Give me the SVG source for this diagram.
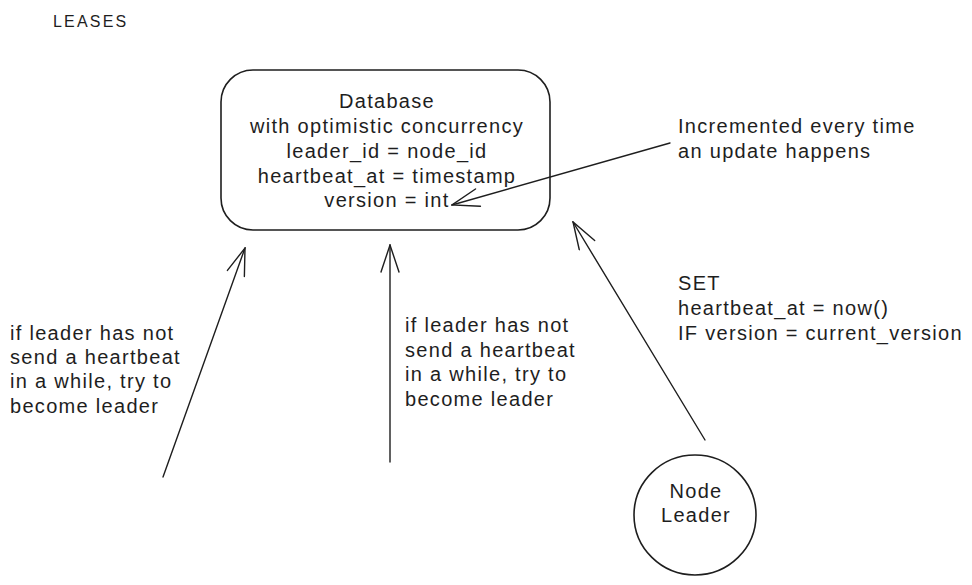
<svg xmlns="http://www.w3.org/2000/svg" width="972" height="585" viewBox="0 0 972 585">
<style>
text{font-family:"Liberation Sans",Arial,sans-serif;font-size:20px;letter-spacing:1.3px;fill:#1e1e1e}
.c{text-anchor:middle}
.shape{fill:none;stroke:#1e1e1e;stroke-width:1.6}
.conn{fill:none;stroke:#1e1e1e;stroke-width:1.4;stroke-linecap:round}
</style>
<defs>
<marker id="arr" viewBox="0 0 30 20" refX="29" refY="10" markerWidth="30" markerHeight="20" markerUnits="userSpaceOnUse" orient="auto">
<path d="M2,1 L29,10 L2,19" fill="none" stroke="#1e1e1e" stroke-width="1.4" stroke-linecap="round"/>
</marker>
</defs>
<rect width="972" height="585" fill="#ffffff"/>
<text x="53" y="27" style="font-size:16px;letter-spacing:2.2px">LEASES</text>
<g id="database">
<rect class="shape" x="221" y="70" width="329" height="160" rx="32"/>
<text class="c" x="387" y="108">Database</text>
<text class="c" x="387" y="133">with optimistic concurrency</text>
<text class="c" x="387" y="158">leader_id = node_id</text>
<text class="c" x="387" y="183">heartbeat_at = timestamp</text>
<text class="c" x="387" y="207">version = int</text>
</g>
<g id="node-leader">
<ellipse class="shape" cx="695" cy="515" rx="61" ry="60"/>
<text class="c" x="696" y="498">Node</text>
<text class="c" x="696" y="522">Leader</text>
</g>
<g id="note-version">
<text x="678" y="133">Incremented every time</text>
<text x="678" y="158">an update happens</text>
</g>
<g id="note-left">
<text x="10" y="340">if leader has not</text>
<text x="10" y="364">send a heartbeat</text>
<text x="10" y="388">in a while, try to</text>
<text x="10" y="413">become leader</text>
</g>
<g id="note-middle">
<text x="405" y="332">if leader has not</text>
<text x="405" y="357">send a heartbeat</text>
<text x="405" y="381">in a while, try to</text>
<text x="405" y="406">become leader</text>
</g>
<g id="note-set">
<text x="678" y="290">SET</text>
<text x="678" y="315">heartbeat_at = now()</text>
<text x="678" y="340">IF version = current_version</text>
</g>
<g id="connectors">
<path class="conn" d="M670,143 L452,205" marker-end="url(#arr)"/>
<path class="conn" d="M163,477 L245,248" marker-end="url(#arr)"/>
<path class="conn" d="M390,462 L390,245" marker-end="url(#arr)"/>
<path class="conn" d="M705,440 L573,222" marker-end="url(#arr)"/>
</g>
</svg>
